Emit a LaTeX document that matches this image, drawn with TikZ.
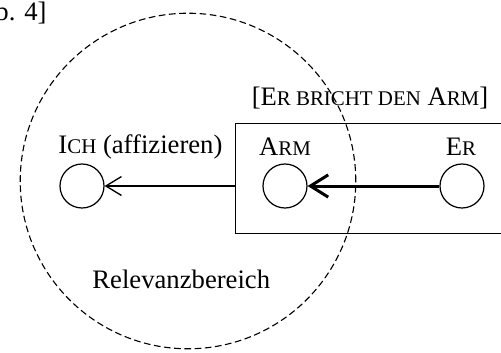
\documentclass[tikz,border=0pt]{standalone}
\usepackage{fontspec}
\setmainfont{Liberation Serif}
\usetikzlibrary{arrows.meta}
\newcommand{\fsc}[1]{{\fontsize{9.4pt}{10pt}\selectfont #1}}
\begin{document}
\begin{tikzpicture}[x=0.45pt,y=-0.45pt,
  every node/.style={font=\fontsize{12pt}{14pt}\selectfont},
  lbl/.style={inner sep=0pt, anchor=base},
  ent/.style={circle, draw, line width=0.55pt, minimum size=19.8pt, inner sep=0pt},
  thinarr/.style={line width=0.55pt, -{Straight Barb[length=7pt,width=8.5pt,line width=0.6pt]}},
  thickarr/.style={line width=1.35pt, -{Straight Barb[length=8pt,width=10pt,line width=1.35pt]}},
  relcirc/.style={circle, draw, line width=0.5pt, dash pattern=on 3pt off 1.6pt, minimum size=151pt, inner sep=0pt},
  framebox/.style={draw, line width=0.55pt, minimum width=128pt, minimum height=49.5pt, inner sep=0pt, anchor=north west}]
\useasboundingbox (0,0) rectangle (501,352);
\node[lbl, anchor=base east] (ex) at (47,20) {b. 4]};
\node[relcirc] (rel) at (188,181) {};
\node[framebox] (box) at (235,123) {};
\node[lbl] (boxlbl) at (370,105) {[E\fsc{R BRICHT DEN} A\fsc{RM}]};
\node[ent] (ich) at (82,186) {};
\node[ent] (arm) at (285,186) {};
\node[ent] (er) at (462,186) {};
\node[lbl, anchor=base west] (ichlbl) at (58,153) {I\fsc{CH} (affizieren)};
\node[lbl] (armlbl) at (285,155) {A\fsc{RM}};
\node[lbl] (erlbl) at (461,155) {E\fsc{R}};
\node[lbl, anchor=base west] (rellbl) at (92,288) {Relevanzbereich};
\coordinate (boxw) at (box.west |- ich.east);
\draw[thinarr] (boxw) -- (ich.east);
\draw[thickarr] (er.west) -- (arm.east);
\end{tikzpicture}
\end{document}
